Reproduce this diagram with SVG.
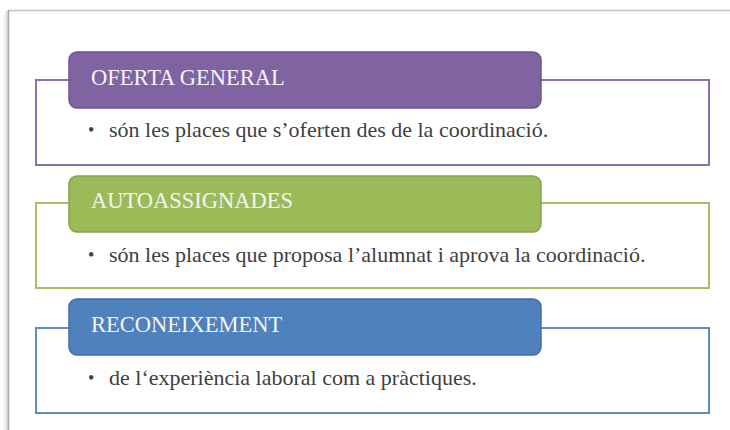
<svg xmlns="http://www.w3.org/2000/svg" width="730" height="430" viewBox="0 0 730 430">
<defs>
<linearGradient id="sh" x1="0" x2="1" y1="0" y2="0">
<stop offset="0" stop-color="#ffffff"/>
<stop offset="1" stop-color="#d6d6d6"/>
</linearGradient>
<style>
.hd{font-family:"Liberation Serif",serif;font-size:22.5px;fill:#f4f4f4}
.tx{font-family:"Liberation Serif",serif;font-size:22px;fill:#404040}
.bl{font-family:"Liberation Serif",serif;font-size:18px;fill:#404040}
.bx{fill:#ffffff;stroke-width:2}
.hr{stroke-width:1.5}
</style>
</defs>
<rect width="730" height="430" fill="#ffffff"/>
<g id="frame">
<rect x="3" y="11" width="5" height="419" fill="url(#sh)"/>
<line x1="8" y1="10.5" x2="730" y2="10.5" stroke="#c8c8c8" stroke-width="1.5"/>
<line x1="8.5" y1="10" x2="8.5" y2="430" stroke="#a8a8a8" stroke-width="1.5"/>
</g>
<g id="oferta">
<rect class="bx" x="36" y="80" width="673" height="85" stroke="#8a70ad"/>
<rect class="hr" x="69" y="52" width="472" height="56" rx="8" fill="#8064a2" stroke="#6d5690"/>
<text class="hd" x="91" y="85">OFERTA GENERAL</text>
<text class="bl" x="88" y="136">•</text>
<text class="tx" x="109" y="137">són les places que s’oferten des de la coordinació.</text>
</g>
<g id="autoassignades">
<rect class="bx" x="36" y="203" width="673" height="85" stroke="#a3c163"/>
<rect class="hr" x="69" y="176" width="472" height="56" rx="8" fill="#9bbb59" stroke="#86a54a"/>
<text class="hd" x="91" y="208">AUTOASSIGNADES</text>
<text class="bl" x="88" y="261">•</text>
<text class="tx" x="109" y="262">són les places que proposa l’alumnat i aprova la coordinació.</text>
</g>
<g id="reconeixement">
<rect class="bx" x="36" y="328" width="673" height="85" stroke="#5c8bc6"/>
<rect class="hr" x="69" y="299" width="472" height="56" rx="8" fill="#4f81bd" stroke="#3f6ea8"/>
<text class="hd" x="91" y="332">RECONEIXEMENT</text>
<text class="bl" x="88" y="384">•</text>
<text class="tx" x="109" y="385">de l‘experiència laboral com a pràctiques.</text>
</g>
</svg>
